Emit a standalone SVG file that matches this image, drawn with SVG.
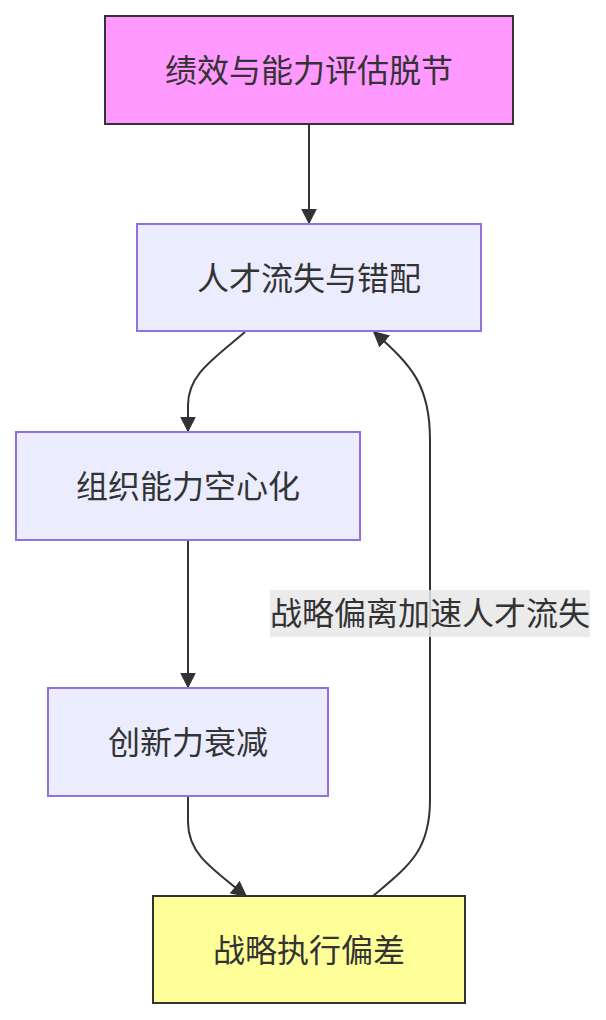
<svg xmlns="http://www.w3.org/2000/svg" width="606" height="1020" viewBox="0 0 606 1020">
<style>
.t{font-family:"Noto Sans CJK SC","Noto Sans",sans-serif;font-size:32px;fill:#333;text-anchor:middle;dominant-baseline:central}
.n{fill:#ECECFF;stroke:#9370DB;stroke-width:2}
.e{fill:none;stroke:#333;stroke-width:2}
</style>
<defs>
<marker id="ah" viewBox="0 0 10 10" refX="9" refY="5" markerWidth="16" markerHeight="16" markerUnits="userSpaceOnUse" orient="auto">
<path d="M0,0 L10,5 L0,10 z" fill="#333"/>
</marker>
</defs>
<g id="edges">
<path class="e" d="M309,124 L309,223" marker-end="url(#ah)"/>
<path class="e" d="M245,332 C212,360 188,375 188,405 L188,431" marker-end="url(#ah)"/>
<path class="e" d="M188,540 L188,687" marker-end="url(#ah)"/>
<path class="e" d="M188,796 L188,822 C188,852 208,866 246,896" marker-end="url(#ah)"/>
<path class="e" d="M373,896 C410,865 430,850 430,800 L430,440 C430,385 412,366 374,332" marker-end="url(#ah)"/>
<rect x="270" y="590" width="320" height="47" fill="#e8e8e8" fill-opacity="0.85"/>
<text class="t" x="430" y="611">战略偏离加速人才流失</text>
</g>
<g id="n1">
<rect x="105" y="16" width="408" height="108" fill="#f9f" stroke="#333" stroke-width="2"/>
<text class="t" x="309" y="68">绩效与能力评估脱节</text>
</g>
<g id="n2">
<rect class="n" x="137" y="224" width="344" height="107"/>
<text class="t" x="309" y="276">人才流失与错配</text>
</g>
<g id="n3">
<rect class="n" x="16" y="432" width="344" height="108"/>
<text class="t" x="188" y="484">组织能力空心化</text>
</g>
<g id="n4">
<rect class="n" x="48" y="688" width="280" height="108"/>
<text class="t" x="188" y="740">创新力衰减</text>
</g>
<g id="n5">
<rect x="153" y="896" width="312" height="107" fill="#ff9" stroke="#333" stroke-width="2"/>
<text class="t" x="309" y="948">战略执行偏差</text>
</g>
</svg>
